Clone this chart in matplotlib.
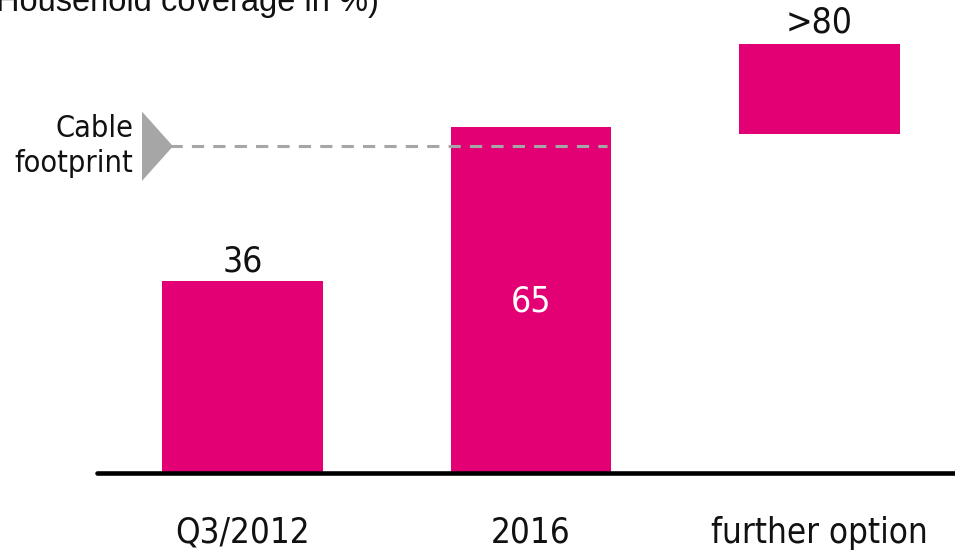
import matplotlib.pyplot as plt
from matplotlib import font_manager

categories = ["Q3/2012", "2016", "further option"]
bar_bottoms = [0, 0, 63.6]
bar_tops = [36, 65, 80.5]
value_labels = ["36", "65", ">80"]
cable_footprint = 61.3
subtitle = "Household coverage in %)"

magenta = "#E20074"
grey = "#A6A6A6"

# pick a narrow font if one is around
fonts = font_manager.fontManager.ttflist
narrow = {"family": "Roboto", "weight": "light"}
for f in fonts:
    if f.name == "Liberation Sans Narrow":
        narrow = {"family": f.name}
        break
    if f.name == "DejaVu Sans" and f.stretch == "condensed" and f.weight == 400 and f.style == "normal":
        narrow = {"family": f.name, "stretch": "condensed"}

fig = plt.figure(figsize=(9.55, 5.54), dpi=100)
ax = fig.add_axes([0, 0, 1, 1])
ax.set_xlim(-0.8406, 2.4697)
ax.set_ylim(-15.2, 88.74)
ax.axis("off")

x = range(len(categories))
heights = [t - b for t, b in zip(bar_tops, bar_bottoms)]
ax.bar(x, heights, bottom=bar_bottoms, width=0.558, color=magenta, zorder=2)

# baseline
ax.plot([-0.504, 2.47], [0, 0], color="black", lw=3.3, solid_capstyle="round", zorder=3)

# value labels
ax.text(0, bar_tops[0] + 3.6, value_labels[0], ha="center", va="center",
        fontsize=25.5, color="#111111", **narrow)
ax.text(1, bar_tops[1] - 32.8, value_labels[1], ha="center", va="center",
        fontsize=25.5, color="white", zorder=4, **narrow)
ax.text(2, bar_tops[2] + 4.0, value_labels[2], ha="center", va="center",
        fontsize=25.5, color="#111111", **narrow)

# category labels
for i, c in enumerate(categories):
    ax.text(i, -11.2, c, ha="center", va="center", fontsize=25,
            color="#111111", **narrow)

# cable footprint marker and dashed line
ax.fill([-0.3484, -0.2409, -0.3484],
        [cable_footprint + 6.5, cable_footprint, cable_footprint - 6.5],
        color=grey, lw=0, zorder=2)
ln, = ax.plot([-0.251, 1.263], [cable_footprint, cable_footprint], color=grey,
              lw=2.2, zorder=4)
ln.set_dashes((4, 3))
ax.text(-0.3795, cable_footprint, "Cable\nfootprint", ha="right", va="center",
        fontsize=22, color="#111111", linespacing=1.25, **narrow)

fig.text(-4, 554 - 11, subtitle, transform=None, ha="left", va="baseline",
         fontsize=23.5, family="Liberation Sans", color="#111111")

fig.savefig("out.png", dpi=100)
